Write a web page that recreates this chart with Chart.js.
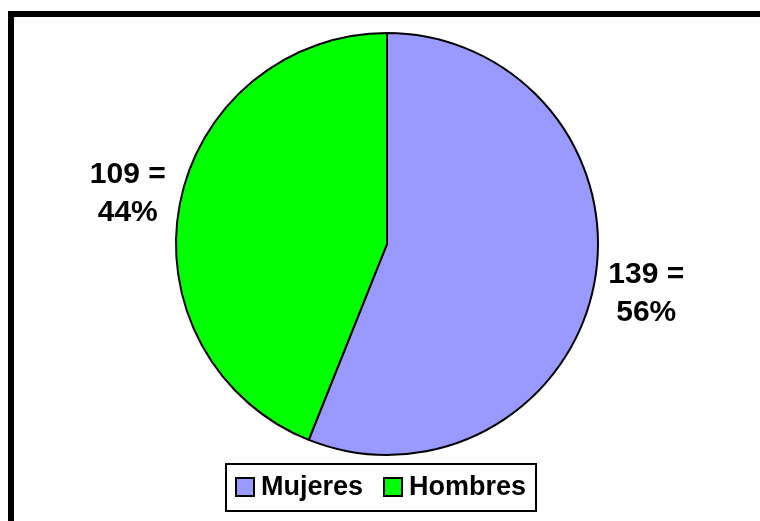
<!DOCTYPE html>
<html>
<head>
<meta charset="utf-8">
<script src="https://cdn.jsdelivr.net/npm/chart.js@4"></script>
<style>
  html, body { margin: 0; padding: 0; background: #fff; }
  #wrap { width: 760px; height: 521px; position: relative; }
</style>
</head>
<body>
<div id="wrap"><canvas id="chart" width="760" height="521"></canvas></div>
<script>
// chart data
const categories = ['Mujeres', 'Hombres'];
const counts = [139, 109];
const percents = ['56%', '44%'];
const sliceColors = ['#9999FF', '#00FF00'];

const FONT = '"Liberation Sans", Arial, sans-serif';

// frame lines (top + left only, the rest is cropped in the original)
const framePlugin = {
    id: 'frame',
    beforeDraw(chart) {
        const ctx = chart.ctx;
        ctx.save();
        ctx.fillStyle = '#fff';
        ctx.fillRect(0, 0, chart.width, chart.height);
        ctx.fillStyle = '#000';
        ctx.fillRect(8, 11, chart.width - 8, 6);
        ctx.fillRect(8, 11, 6, chart.height - 11);
        ctx.restore();
    }
};

// "139 =" / "56%" labels outside each slice
const sliceLabels = {
    id: 'sliceLabels',
    afterDraw(chart) {
        const ctx = chart.ctx;
        const meta = chart.getDatasetMeta(0);
        ctx.save();
        ctx.font = 'bold 30px ' + FONT;
        ctx.fillStyle = '#000';
        ctx.textAlign = 'center';
        ctx.textBaseline = 'middle';
        meta.data.forEach((arc, i) => {
            const mid = (arc.startAngle + arc.endAngle) / 2;
            const dist = arc.outerRadius + 53;
            const x = arc.x + Math.cos(mid) * dist;
            const y = arc.y + Math.sin(mid) * dist;
            ctx.fillText(counts[i] + ' =', x, y - 19);
            ctx.fillText(percents[i], x, y + 19);
        });
        ctx.restore();
    }
};

// boxed legend under the pie
const boxLegend = {
    id: 'boxLegend',
    afterDraw(chart) {
        const ctx = chart.ctx;
        const left = 226, top = 464, right = 536, bottom = 511;
        ctx.save();
        ctx.lineWidth = 2;
        ctx.strokeStyle = '#000';
        ctx.strokeRect(left, top, right - left, bottom - top);

        ctx.font = 'bold 27px ' + FONT;
        ctx.textBaseline = 'alphabetic';
        let x = 236;
        categories.forEach((name, i) => {
            ctx.fillStyle = sliceColors[i];
            ctx.fillRect(x, 478, 18, 18);
            ctx.strokeRect(x, 478, 18, 18);
            ctx.fillStyle = '#000';
            ctx.fillText(name, x + 25, 495);
            x += 25 + ctx.measureText(name).width + 21;
        });
        ctx.restore();
    }
};

new Chart(document.getElementById('chart'), {
    type: 'pie',
    data: {
        labels: categories,
        datasets: [{
            data: counts,
            backgroundColor: sliceColors,
            borderColor: '#000',
            borderWidth: 2
        }]
    },
    options: {
        responsive: false,
        animation: false,
        layout: {
            padding: { left: 175, right: 161, top: 32, bottom: 65 }
        },
        plugins: {
            legend: { display: false },
            tooltip: { enabled: false }
        }
    },
    plugins: [framePlugin, sliceLabels, boxLegend]
});
</script>
</body>
</html>
